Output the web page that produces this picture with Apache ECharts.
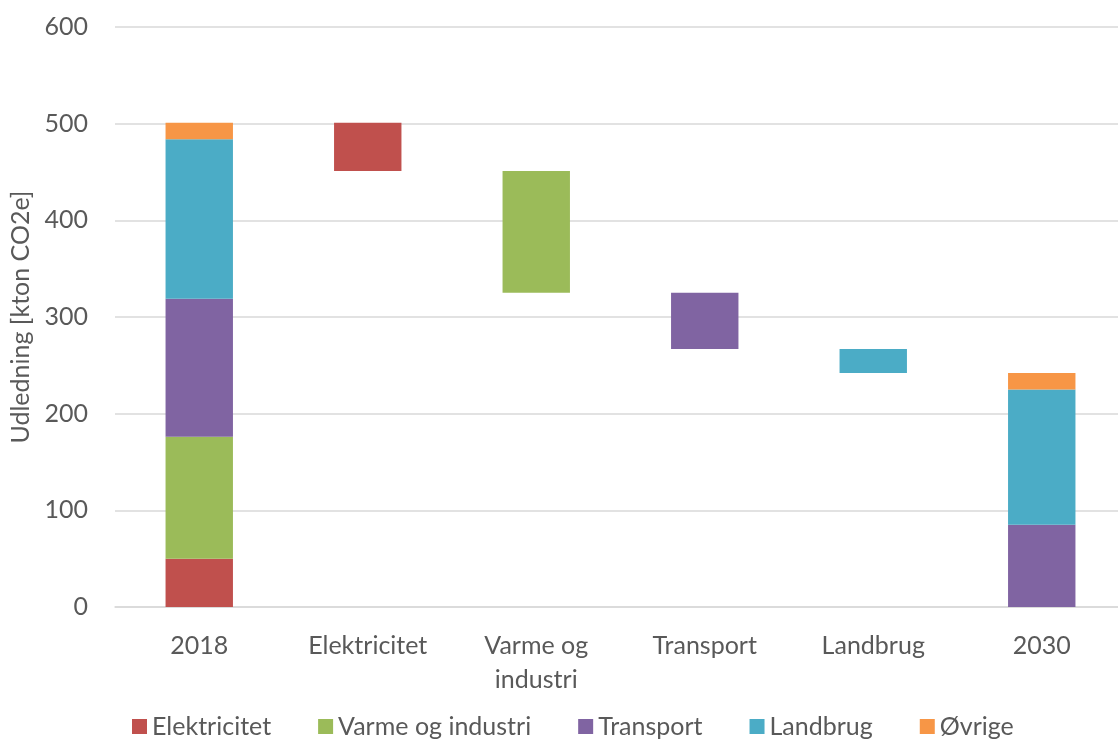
<!DOCTYPE html>
<html>
<head>
<meta charset="utf-8">
<script src="https://cdn.jsdelivr.net/npm/echarts@6/dist/echarts.min.js"></script>
<style>
  html, body { margin: 0; padding: 0; background: #fff; }
  #chart { width: 1118px; height: 740px; }
</style>
</head>
<body>
<div id="chart"></div>
<script>
// Categories on the x axis
const categories = ['2018', 'Elektricitet', 'Varme og\nindustri', 'Transport', 'Landbrug', '2030'];
// Sectors (legend entries)
const sectors = ['Elektricitet', 'Varme og industri', 'Transport', 'Landbrug', 'Øvrige'];
const colors = ['#C0504D', '#9BBB59', '#8064A2', '#4BACC6', '#F79646'];
// Emissions per sector, kton CO2e
const emissions2018 = [50, 126, 143, 165, 17];
const emissions2030 = [0, 0, 85, 140, 17];
// Reduction per sector between the two years (shown as floating steps)
const reductions = [50, 126, 58, 25];
const yTicks = [0, 100, 200, 300, 400, 500, 600];

// Running totals give the floor of each floating step
const total2018 = emissions2018.reduce((a, b) => a + b, 0);
const baseValues = ['-'];
let running = total2018;
reductions.forEach(r => { running -= r; baseValues.push(running); });
baseValues.push('-');

const font = 'Lato, "Open Sans", sans-serif';
const textColor = '#595959';

const series = [{
  name: 'base',
  type: 'bar',
  stack: 'total',
  silent: true,
  barWidth: '40%',
  itemStyle: { color: 'transparent' },
  data: baseValues
}];
sectors.forEach((s, i) => {
  const data = categories.map((c, j) => {
    if (j === 0) return emissions2018[i];
    if (j === categories.length - 1) return emissions2030[i] || '-';
    return (j - 1 === i) ? reductions[i] : '-';
  });
  series.push({
    name: s,
    type: 'bar',
    stack: 'total',
    barWidth: '40%',
    itemStyle: { color: colors[i] },
    data: data
  });
});

const chart = echarts.init(document.getElementById('chart'));
chart.setOption({
  animation: false,
  textStyle: { fontFamily: font },
  grid: { left: 115, right: -8, top: 27, bottom: 133, outerBoundsMode: 'none', containLabel: false },
  legend: {
    data: sectors.map((s, i) => ({ name: s, itemStyle: { color: colors[i] } })),
    bottom: -4,
    left: 127,
    icon: 'rect',
    itemWidth: 15,
    itemHeight: 15,
    itemGap: 47,
    textStyle: { fontSize: 25, color: textColor, fontFamily: font }
  },
  xAxis: {
    type: 'category',
    data: categories,
    axisLine: { lineStyle: { color: '#d9d9d9', width: 1.5 } },
    axisTick: { show: false },
    axisLabel: { fontSize: 25, color: textColor, margin: 22, lineHeight: 34, fontFamily: font }
  },
  yAxis: {
    type: 'value',
    min: yTicks[0],
    max: yTicks[yTicks.length - 1],
    interval: 100,
    name: 'Udledning [kton CO2e]',
    nameLocation: 'middle',
    nameGap: 80,
    nameTextStyle: { fontSize: 25, color: textColor, fontFamily: font },
    axisLine: { show: false },
    axisTick: { show: false },
    axisLabel: { fontSize: 25, color: textColor, margin: 27, fontFamily: font },
    splitLine: { lineStyle: { color: '#d9d9d9', width: 1.5 } }
  },
  series: series
});
</script>
</body>
</html>
